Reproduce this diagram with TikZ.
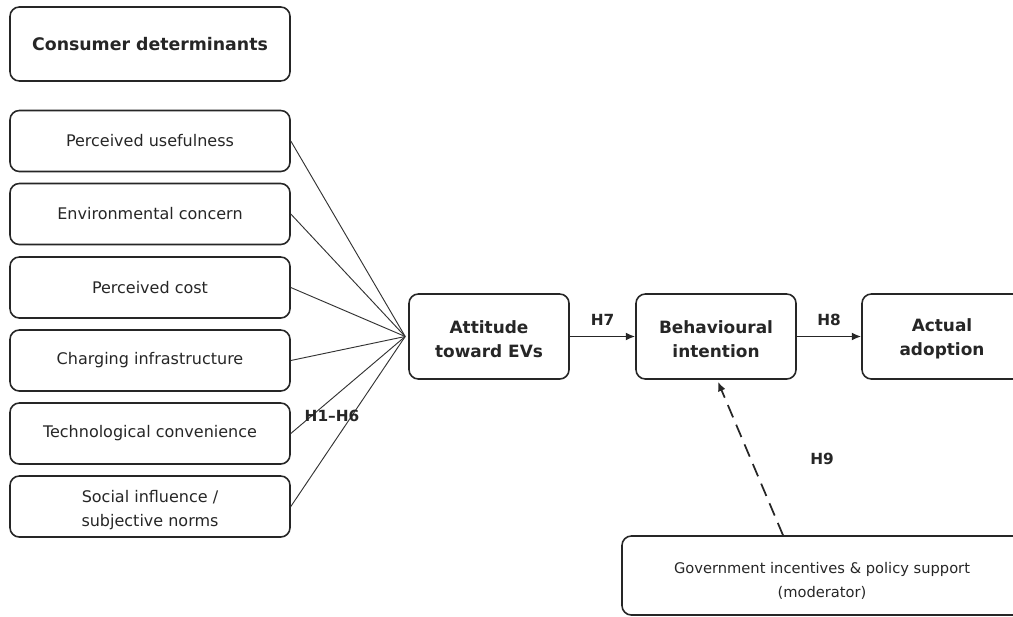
\documentclass[tikz,border=0pt]{standalone}
\usepackage{fontspec}
\setmainfont{DejaVu Sans}
\usetikzlibrary{arrows.meta}

% strut that lowers two-line labels a little
\newcommand\padtop[1]{\rule{0pt}{#1}}

\tikzset{
  box/.style={draw=black!85, line width=1.2pt, rounded corners=7pt,
    align=center, text=black!85, inner sep=0pt},
  factor/.style={box, minimum width=210pt, minimum height=45.75pt,
    font=\fontsize{12}{18}\selectfont},
  construct/.style={box, minimum width=120pt, minimum height=63.75pt,
    font=\bfseries\fontsize{12.7}{18}\selectfont},
  hyp/.style={font=\bfseries\fontsize{11.5}{13}\selectfont, text=black!85},
  link/.style={draw=black!80, line width=0.7pt},
  path/.style={draw=black!85, line width=1.3pt, -{Latex[length=7pt,width=6pt]}}
}

\begin{document}
\begin{tikzpicture}[x=0.75pt, y=-0.75pt]
  % page frame
  \useasboundingbox (0,0) rectangle (1013,617);

  % Heading box
  \node[box, minimum width=210pt, minimum height=55.5pt,
    font=\bfseries\fontsize{13}{14}\selectfont] (head) at (150,44) {Consumer determinants};

  % Determinants (H1--H6)
  \node[factor] (pu)  at (150,141)   {Perceived usefulness};
  \node[factor] (env) at (150,214)   {Environmental concern};
  \node[factor] (pc)  at (150,287.5) {Perceived cost};
  \node[factor] (ci)  at (150,360.5) {Charging infrastructure};
  \node[factor] (tc)  at (150,433.5) {Technological convenience};
  \node[factor] (si)  at (150,506.5) {\padtop{15pt}Social influence /\\subjective norms};

  % Main constructs
  \node[construct] (att) at (489,336.5) {\padtop{13pt}Attitude\\toward EVs};
  \node[construct] (beh) at (716,336.5) {\padtop{13pt}Behavioural\\intention};
  \node[construct] (act) at (942,336.5) {\padtop{13pt}Actual\\adoption};

  % Moderator
  \node[box, minimum width=300pt, minimum height=59.25pt,
    font=\fontsize{11}{18}\selectfont] (gov) at (822,575.5)
    {\padtop{16pt}Government incentives \& policy support\\(moderator)};

  % Fan of links into attitude
  \coordinate (fan) at ([xshift=-2.25pt]att.west);
  \foreach \f in {pu,env,pc,ci,tc,si}
    \draw[link] (\f.east) -- (fan);
  \node[hyp] (h16) at (332,416) {H1–H6};

  % Structural paths
  \draw[path] (att.east) -- (beh.west) node[hyp, midway, above=4pt] (h7) {H7};
  \draw[path] (beh.east) -- (act.west) node[hyp, midway, above=4pt] (h8) {H8};

  % Moderating effect
  \draw[path, dash pattern=on 10pt off 6pt]
    ([xshift=-29.25pt]gov.north) -- ([xshift=1.5pt,yshift=-1.5pt]beh.south);
  \node[hyp] (h9) at (822,459) {H9};
\end{tikzpicture}
\end{document}
